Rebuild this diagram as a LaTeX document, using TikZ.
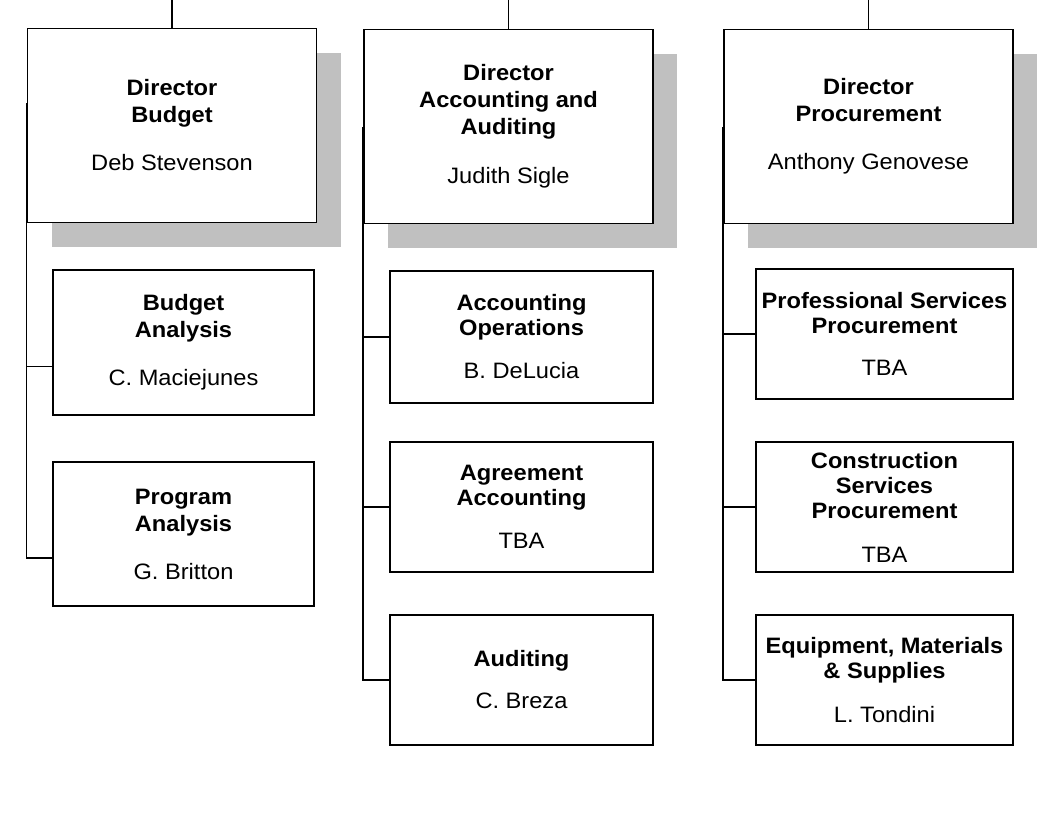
\documentclass[tikz,border=0pt]{standalone}
\usepackage{fontspec}
\setmainfont{Liberation Sans}[FakeStretch=1.06]
\usetikzlibrary{shadows}
\definecolor{shadowgray}{HTML}{C0C0C0}
\tikzset{
  box/.style={draw=black, line width=1.7pt, fill=white, inner sep=0pt, align=center,
              font=\fontsize{22.3}{27}\selectfont},
  dirbox/.style={box, minimum width=289pt, minimum height=194pt,
              drop shadow={shadow xshift=24pt, shadow yshift=-24pt, fill=shadowgray, opacity=1}},
  tight/.style={font=\fontsize{22.3}{25}\selectfont},
  conn/.style={draw=black, line width=1.5pt}
}
\begin{document}
\begin{tikzpicture}[x=1pt,y=-1pt]
\useasboundingbox (0,0) rectangle (1046,830);
% top stubs
\coordinate (tA) at (172,0);
\coordinate (tB) at (508.5,0);
\coordinate (tC) at (868.5,0);
% directors
\node[dirbox] (dA) at (172,125.5) {\textbf{Director}\\\textbf{Budget}\\[21pt]Deb Stevenson};
\node[dirbox] (dB) at (508.5,126.5) {\textbf{Director}\\\textbf{Accounting and}\\\textbf{Auditing}\\[22pt]Judith Sigle};
\node[dirbox] (dC) at (868.5,126.5) {\textbf{Director}\\\textbf{Procurement}\\[21pt]Anthony Genovese};
\draw[conn] (tA) -- (dA.north);
\draw[conn] (tB) -- (dB.north);
\draw[conn] (tC) -- (dC.north);
% column 1 children
\node[box, minimum width=261pt, minimum height=145pt] (a1) at (183.5,342.5) {\textbf{Budget}\\\textbf{Analysis}\\[21pt]C. Maciejunes};
\node[box, minimum width=261pt, minimum height=144pt] (a2) at (183.5,534) {\textbf{Program}\\\textbf{Analysis}\\[21pt]G. Britton};
% column 2 children
\node[box, tight, minimum width=263pt, minimum height=132pt] (b1) at (521.5,337) {\textbf{Accounting}\\\textbf{Operations}\\[18pt]B. DeLucia};
\node[box, tight, minimum width=263pt, minimum height=130pt] (b2) at (521.5,507) {\textbf{Agreement}\\\textbf{Accounting}\\[18pt]TBA};
\node[box, tight, minimum width=263pt, minimum height=130pt] (b3) at (521.5,680) {\textbf{Auditing}\\[17pt]C. Breza};
% column 3 children
\node[box, tight, minimum width=257pt, minimum height=130pt] (c1) at (884.5,334) {\textbf{Professional Services}\\\textbf{Procurement}\\[17pt]TBA};
\node[box, tight, minimum width=257pt, minimum height=130pt] (c2) at (884.5,507) {\textbf{Construction}\\\textbf{Services}\\\textbf{Procurement}\\[19pt]TBA};
\node[box, tight, minimum width=257pt, minimum height=130pt] (c3) at (884.5,680) {\textbf{Equipment, Materials}\\\textbf{\& Supplies}\\[19pt]L. Tondini};
% spines and branches
\draw[conn] ([yshift=120pt]dA.south west) |- ([yshift=-24pt]a1.west);
\draw[conn] (dA.south west) |- ([yshift=-24pt]a2.west);
\draw[conn] ([yshift=97pt]dB.south west) |- (b1.west);
\draw[conn] (dB.south west) |- (b2.west);
\draw[conn] (dB.south west) |- (b3.west);
\draw[conn] ([yshift=97pt]dC.south west) |- (c1.west);
\draw[conn] (dC.south west) |- (c2.west);
\draw[conn] (dC.south west) |- (c3.west);
\end{tikzpicture}
\end{document}
